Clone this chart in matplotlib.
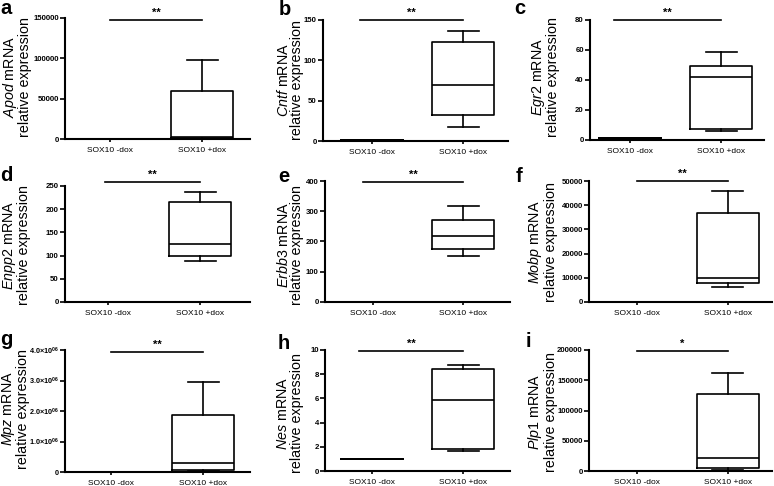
import numpy as np
import matplotlib.pyplot as plt

plt.rcParams['font.family'] = ['Liberation Sans', 'DejaVu Sans']
plt.rcParams['mathtext.fontset'] = 'custom'
plt.rcParams['mathtext.rm'] = 'Liberation Sans'
plt.rcParams['mathtext.it'] = 'Liberation Sans:italic'
plt.rcParams['mathtext.bf'] = 'Liberation Sans:bold'

W, H = 774, 486

groups = ['SOX10 -dox', 'SOX10 +dox']
letters = ['a', 'b', 'c', 'd', 'e', 'f', 'g', 'h', 'i']
genes = ['Apod', 'Cntf', 'Egr2', 'Enpp2', 'Erbb3', 'Mobp', 'Mpz', 'Nes', 'Plp1']
stars = ['**', '**', '**', '**', '**', '**', '**', '**', '*']

# whisker low, q1, median, q3, whisker high
minus_dox = [1, 1, 1, 1, 1]
apod_plus = [300, 1000, 2500, 60000, 98000]
cntf_plus = [17, 32, 70, 123, 136]
egr2_plus = [6, 7.3, 42, 49, 58.5]
enpp2_plus = [89, 100, 126, 215, 236]
erbb3_plus = [152, 174, 218, 270, 316]
mobp_plus = [6400, 7800, 9800, 36800, 45900]
mpz_plus = [20000, 50000, 300000, 1880000, 2940000]
nes_plus = [1.63, 1.85, 5.83, 8.4, 8.78]
plp1_plus = [1600, 5600, 21000, 128000, 162000]
plus_dox = [apod_plus, cntf_plus, egr2_plus, enpp2_plus, erbb3_plus,
            mobp_plus, mpz_plus, nes_plus, plp1_plus]

yticks = [
    [0, 50000, 100000, 150000],
    [0, 50, 100, 150],
    [0, 20, 40, 60, 80],
    [0, 50, 100, 150, 200, 250],
    [0, 100, 200, 300, 400],
    [0, 10000, 20000, 30000, 40000, 50000],
    [0, 1e6, 2e6, 3e6, 4e6],
    [0, 2, 4, 6, 8, 10],
    [0, 50000, 100000, 150000, 200000],
]
mpz_labels = ['0', '1.0×10$^{\\mathbf{06}}$', '2.0×10$^{\\mathbf{06}}$',
              '3.0×10$^{\\mathbf{06}}$', '4.0×10$^{\\mathbf{06}}$']
sig_y = [148000, 150, 80, 258, 398, 50000, 3.95e6, 9.9, 198000]
sig_start = [1.0, 0.87, 0.82, 0.97, 0.89, 1.0, 1.0, 0.86, 1.0]

# layout in pixels: axes box (left, top, right, bottom), tick px of the two groups
boxes = [(65, 18, 250, 139), (323, 20, 508, 141), (590, 20, 764, 140),
         (65, 186, 250, 302), (325, 181, 510, 302), (589, 181, 772, 302),
         (65, 350, 250, 472), (325, 350, 510, 471), (589, 350, 772, 471)]
tick_px = [(110, 202), (372, 463), (630, 721),
           (108, 200), (373, 463), (637, 728),
           (111, 203), (372, 463), (637, 728)]
ylab_pos = [(16.5, 77), (290, 80), (545, 77),
            (16, 245), (290, 245), (542, 242),
            (15, 409), (290, 413), (542, 412)]
letter_pos = [(0, 14), (279, 15), (514, 14),
              (0, 181), (278, 182), (516, 182),
              (0, 345), (278, 349), (526, 347)]

fig = plt.figure(figsize=(W / 100, H / 100), dpi=100)

for k in range(9):
    l, t, r, b = boxes[k]
    ax = fig.add_axes([l / W, 1 - b / H, (r - l) / W, (b - t) / H])
    t1, t2 = tick_px[k]
    s = t2 - t1
    x0 = 1 - (t1 - l) / s
    x1 = x0 + (r - l) / s
    width = 62 / s

    stats = []
    for vals, name in zip([minus_dox, plus_dox[k]], groups):
        stats.append(dict(whislo=vals[0], q1=vals[1], med=vals[2],
                          q3=vals[3], whishi=vals[4], label=name))
    lp = dict(color='black', linewidth=1.2)
    ax.bxp(stats, positions=[1, 2], widths=width, showfliers=False,
           boxprops=lp, whiskerprops=lp, capprops=lp, medianprops=lp)

    ax.set_xlim(x0, x1)
    ax.set_ylim(0, yticks[k][-1])
    ax.set_yticks(yticks[k])
    if k == 6:
        ax.set_yticklabels(mpz_labels)
    else:
        ax.set_yticklabels([str(int(v)) for v in yticks[k]])
    ax.set_xticks([1, 2])
    ax.set_xticklabels(groups)

    for side in ['top', 'right']:
        ax.spines[side].set_visible(False)
    for side in ['left', 'bottom']:
        ax.spines[side].set_linewidth(1.5)
    ax.tick_params(axis='y', length=3.5, width=1.2, pad=1,
                   labelsize=5.2 if k == 6 else 5.6)
    ax.tick_params(axis='x', length=2.5, width=1.2, pad=3, labelsize=6)
    for lab in ax.get_yticklabels():
        lab.set_fontweight('bold')

    # significance bar
    ax.plot([sig_start[k], 2], [sig_y[k], sig_y[k]], color='black',
            linewidth=1.2, clip_on=False)
    ax.annotate(stars[k], xy=((sig_start[k] + 2) / 2, sig_y[k]),
                xytext=(0, 1.5), textcoords='offset points',
                ha='center', va='bottom', fontsize=8, fontweight='bold',
                annotation_clip=False)

    yx, yy = ylab_pos[k]
    fig.text(yx / W, 1 - yy / H,
             '$\\mathit{' + genes[k] + '}$ mRNA\nrelative expression',
             rotation=90, ha='center', va='center', fontsize=10.3,
             linespacing=0.95)

    lx, ly = letter_pos[k]
    fig.text(lx / W, 1 - ly / H, letters[k], ha='left', va='baseline',
             fontsize=14.5, fontweight='bold')

fig.savefig('out.png', dpi=100)
